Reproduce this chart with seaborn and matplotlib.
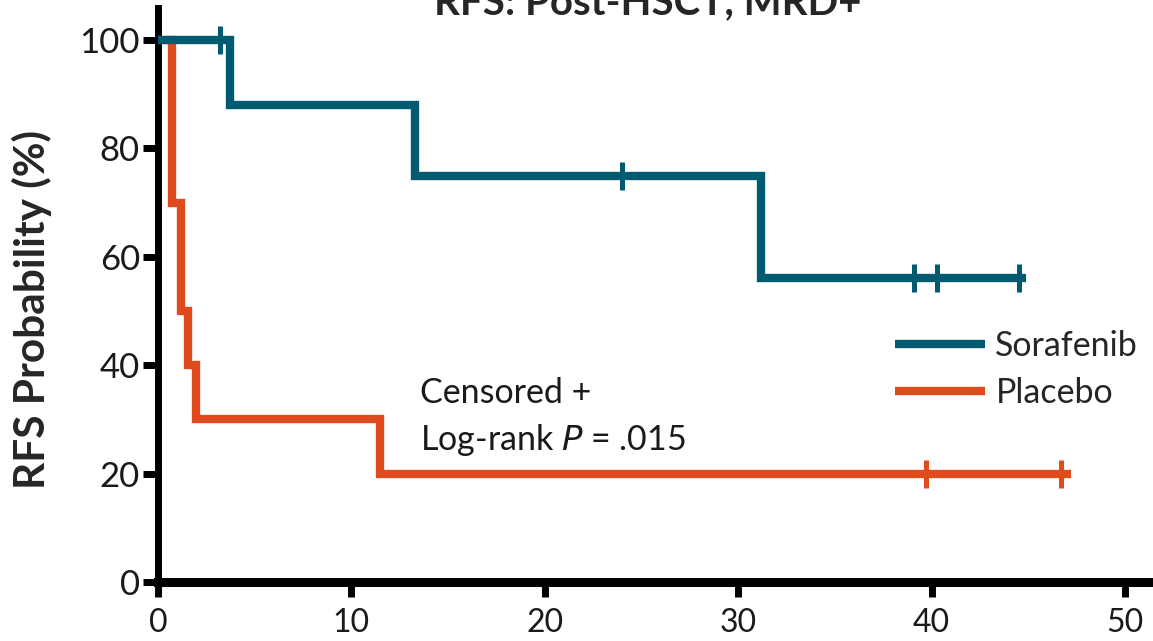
import matplotlib
matplotlib.use("Agg")
import matplotlib.pyplot as plt
import pandas as pd
import seaborn as sns
from matplotlib.lines import Line2D

# Kaplan-Meier step data (months, RFS %)
sorafenib_time = [0, 3.7, 13.3, 31.2, 44.9]
sorafenib_surv = [100, 88, 75, 56, 56]
sorafenib_cens_time = [3.2, 24.0, 39.1, 40.3, 44.5]
sorafenib_cens_surv = [100, 75, 56, 56, 56]

placebo_time = [0, 0.7, 1.2, 1.55, 1.95, 11.5, 47.2]
placebo_surv = [100, 70, 50, 40, 30, 20, 20]
placebo_cens_time = [39.7, 46.7]
placebo_cens_surv = [20, 20]

x_ticks = [0, 10, 20, 30, 40, 50]
y_ticks = [0, 20, 40, 60, 80, 100]

teal = "#005a70"
orange = "#e04b1e"

sns.set_style("ticks")
plt.rcParams["font.family"] = ["Lato", "DejaVu Sans"]

W, H = 1153, 641
fig = plt.figure(figsize=(W / 100, H / 100), dpi=100)
ax = fig.add_axes([158 / W, (H - 582) / H, (W - 158) / W, (582 - 8) / H])

sor = pd.DataFrame({"t": sorafenib_time, "s": sorafenib_surv})
pla = pd.DataFrame({"t": placebo_time, "s": placebo_surv})
sor_c = pd.DataFrame({"t": sorafenib_cens_time, "s": sorafenib_cens_surv})
pla_c = pd.DataFrame({"t": placebo_cens_time, "s": placebo_cens_surv})

lw = 6
sns.lineplot(data=pla, x="t", y="s", drawstyle="steps-post", color=orange,
             lw=lw, ax=ax, estimator=None, sort=False, zorder=3,
             solid_joinstyle="miter", solid_capstyle="butt")
sns.lineplot(data=sor, x="t", y="s", drawstyle="steps-post", color=teal,
             lw=lw, ax=ax, estimator=None, sort=False, zorder=4,
             solid_joinstyle="miter", solid_capstyle="butt")
sns.scatterplot(data=pla_c, x="t", y="s", marker="|", s=400, color=orange,
                linewidth=3.6, ax=ax, zorder=5)
sns.scatterplot(data=sor_c, x="t", y="s", marker="|", s=400, color=teal,
                linewidth=3.6, ax=ax, zorder=6)

ax.set_xlim(0, (W - 158) / 19.34)
ax.set_ylim(0, (582 - 8) / 5.42)
ax.set_xticks(x_ticks)
ax.set_yticks(y_ticks)
ax.set_xticklabels([str(v) for v in x_ticks])
ax.set_yticklabels([str(v) for v in y_ticks])

for side in ["top", "right"]:
    ax.spines[side].set_visible(False)
ax.spines["left"].set_linewidth(5)
ax.spines["bottom"].set_linewidth(6.5)
ax.spines["left"].set_color("black")
ax.spines["bottom"].set_color("black")
ax.tick_params(axis="y", length=11, width=5, pad=2, labelsize=25,
               colors="black", labelcolor="#1a1a1a")
ax.tick_params(axis="x", length=11, width=5, pad=8, labelsize=23,
               colors="black", labelcolor="#1a1a1a")

ax.set_xlabel("")
ax.set_ylabel("RFS Probability (%)", fontsize=30.5, fontweight="bold")
ax.yaxis.set_label_coords(-0.1065, 0.474)

ax.text(13.55, 33.0, "Censored +", fontsize=24.5, va="baseline",
        ha="left", color="#1a1a1a")
ax.text(13.55, 24.4, "Log-rank $\\mathit{P}$ = .015", fontsize=24.5,
        va="baseline", ha="left", color="#1a1a1a")

handles = [Line2D([], [], color=teal, lw=lw, solid_capstyle="butt"),
           Line2D([], [], color=orange, lw=lw, solid_capstyle="butt")]
ax.legend(handles, ["Sorafenib", "Placebo"], loc="center left",
          bbox_to_anchor=(895 / W, 1 - 369.5 / H),
          bbox_transform=fig.transFigure, frameon=False, fontsize=24.5,
          handlelength=2.65, handletextpad=0.3, labelspacing=0.42,
          borderpad=0, borderaxespad=0)

fig.text(648 / W, 1 - 14 / H, "RFS: Post-HSCT, MRD+", ha="center",
         va="baseline", fontsize=29, fontweight="bold")

fig.savefig("out.png", dpi=100)
